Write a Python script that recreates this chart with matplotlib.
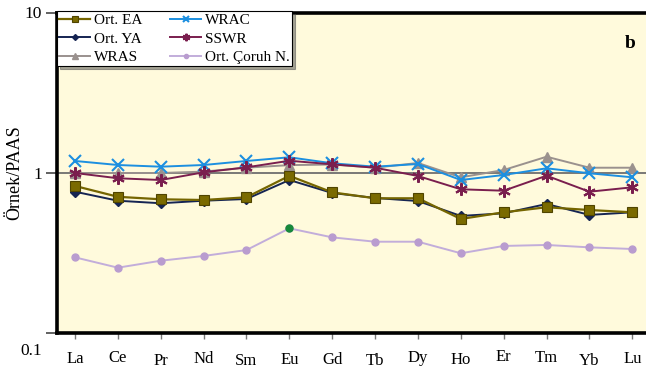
import matplotlib
matplotlib.use("Agg")
import matplotlib.pyplot as plt
import matplotlib.transforms as mtransforms
import numpy as np

plt.rcParams['font.family'] = ['Liberation Serif', 'DejaVu Serif']

elements = ["La", "Ce", "Pr", "Nd", "Sm", "Eu", "Gd", "Tb", "Dy", "Ho", "Er", "Tm", "Yb", "Lu"]

ort_ea = [0.83, 0.71, 0.685, 0.678, 0.705, 0.96, 0.757, 0.695, 0.695, 0.516, 0.568, 0.611, 0.587, 0.568]
ort_ya = [0.764, 0.671, 0.647, 0.671, 0.688, 0.904, 0.75, 0.698, 0.668, 0.539, 0.56, 0.64, 0.547, 0.568]
wras = [1.0, 1.0, 1.0, 1.02, 1.08, 1.12, 1.13, 1.08, 1.155, 0.94, 1.044, 1.264, 1.079, 1.079]
wrac = [1.189, 1.122, 1.095, 1.122, 1.189, 1.254, 1.15, 1.095, 1.138, 0.904, 0.972, 1.07, 0.996, 0.94]
sswr = [1.0, 0.927, 0.904, 1.01, 1.085, 1.193, 1.133, 1.079, 0.958, 0.791, 0.775, 0.962, 0.764, 0.814]
ort_coruh = [0.297, 0.256, 0.283, 0.303, 0.33, 0.451, 0.396, 0.372, 0.372, 0.315, 0.35, 0.355, 0.343, 0.335]

series_labels = ["Ort. EA", "Ort. YA", "WRAS", "WRAC", "SSWR", "Ort. Çoruh N."]

fig = plt.figure(figsize=(6.46, 3.69), dpi=100)
ax = fig.add_axes([57 / 646, 36 / 369, 1.01 - 57 / 646, 320 / 369])
ax.set_facecolor("#FFFADC")

x = np.arange(1, len(elements) + 1)

ax.axhline(1, color="#6E6E6E", lw=1.3, zorder=1)

h_wras, = ax.plot(x, wras, color="#9A918E", lw=1.4, marker="^", ms=7,
                  mfc="#9A918E", mec="#9A918E", zorder=2)
h_wrac, = ax.plot(x, wrac, color="#1C8FE0", lw=1.4, marker="x", ms=8,
                  mew=1.5, zorder=3)
h_sswr, = ax.plot(x, sswr, color="#7A1E4E", lw=1.4, marker=(6, 2, 0), ms=9,
                  mew=1.5, zorder=4)
h_ya, = ax.plot(x, ort_ya, color="#152452", lw=1.4, marker="D", ms=5,
                mfc="#152452", mec="#152452", zorder=5)
h_ea, = ax.plot(x, ort_ea, color="#756500", lw=1.6, marker="s", ms=7.5,
                mfc="#7A6A00", mec="#4F4400", mew=0.8, zorder=6)
h_cor, = ax.plot(x, ort_coruh, color="#C2ADDA", lw=1.4, marker="o", ms=5,
                 mfc="#B99CCF", mec="#B99CCF", zorder=3)
# Eu anomaly point highlighted in green
ax.plot(x[5], ort_coruh[5], "o", ms=5, color="#17893A", zorder=7)

ax.set_yscale("log")
ax.set_ylim(0.1, 10)
ax.set_xlim(0.58, 14.47)
ax.set_yticks([0.1, 1, 10])
ax.set_yticklabels(["0.1", "1", "10"])
ax.yaxis.set_minor_locator(matplotlib.ticker.NullLocator())
ax.tick_params(axis="y", length=8, width=1.3, color="#555555", labelsize=12.5, pad=3)
ax.set_xticks(x)
ax.set_xticklabels(elements)
ax.tick_params(axis="x", length=4, width=1, color="#777777", labelsize=12, pad=9)

# small vertical nudges of the element labels (px)
nudges = [0, -1.3, 2, 0, 2, 1, 1, 2, -0.7, 1, -2.3, -0.7, 2, 0]
for lab, dy in zip(ax.get_xticklabels(), nudges):
    lab.set_transform(lab.get_transform() +
                      mtransforms.ScaledTranslation(0, -dy / 100, fig.dpi_scale_trans))
for lab in ax.get_yticklabels():
    if lab.get_text() == "0.1":
        lab.set_transform(lab.get_transform() +
                          mtransforms.ScaledTranslation(0, -0.16, fig.dpi_scale_trans))
    elif lab.get_text() == "10":
        lab.set_transform(lab.get_transform() +
                          mtransforms.ScaledTranslation(0, 0.01, fig.dpi_scale_trans))

for side in ["left", "top", "bottom"]:
    ax.spines[side].set_linewidth(2.6)
    ax.spines[side].set_color("black")
ax.spines["right"].set_visible(False)

ax.set_ylabel("Örnek/PAAS", fontsize=13)
ax.yaxis.set_label_coords(-0.056, 0.5)

ax.text(0.963, 0.905, "b", transform=ax.transAxes, fontsize=14,
        fontweight="bold", ha="center", va="center")

leg = ax.legend([h_ea, h_ya, h_wras, h_wrac, h_sswr, h_cor], series_labels,
                ncol=2, loc="upper left", bbox_to_anchor=(0.0, 1.005),
                fontsize=11, frameon=True, fancybox=False, shadow=True,
                borderpad=0.15, labelspacing=0.3, handlelength=2.0,
                handletextpad=0.3, columnspacing=1.8, borderaxespad=0.0,
                markerscale=0.6)
leg.get_frame().set_edgecolor("black")
leg.get_frame().set_linewidth(0.8)
leg.set_zorder(10)

fig.savefig("out.png", dpi=100)
